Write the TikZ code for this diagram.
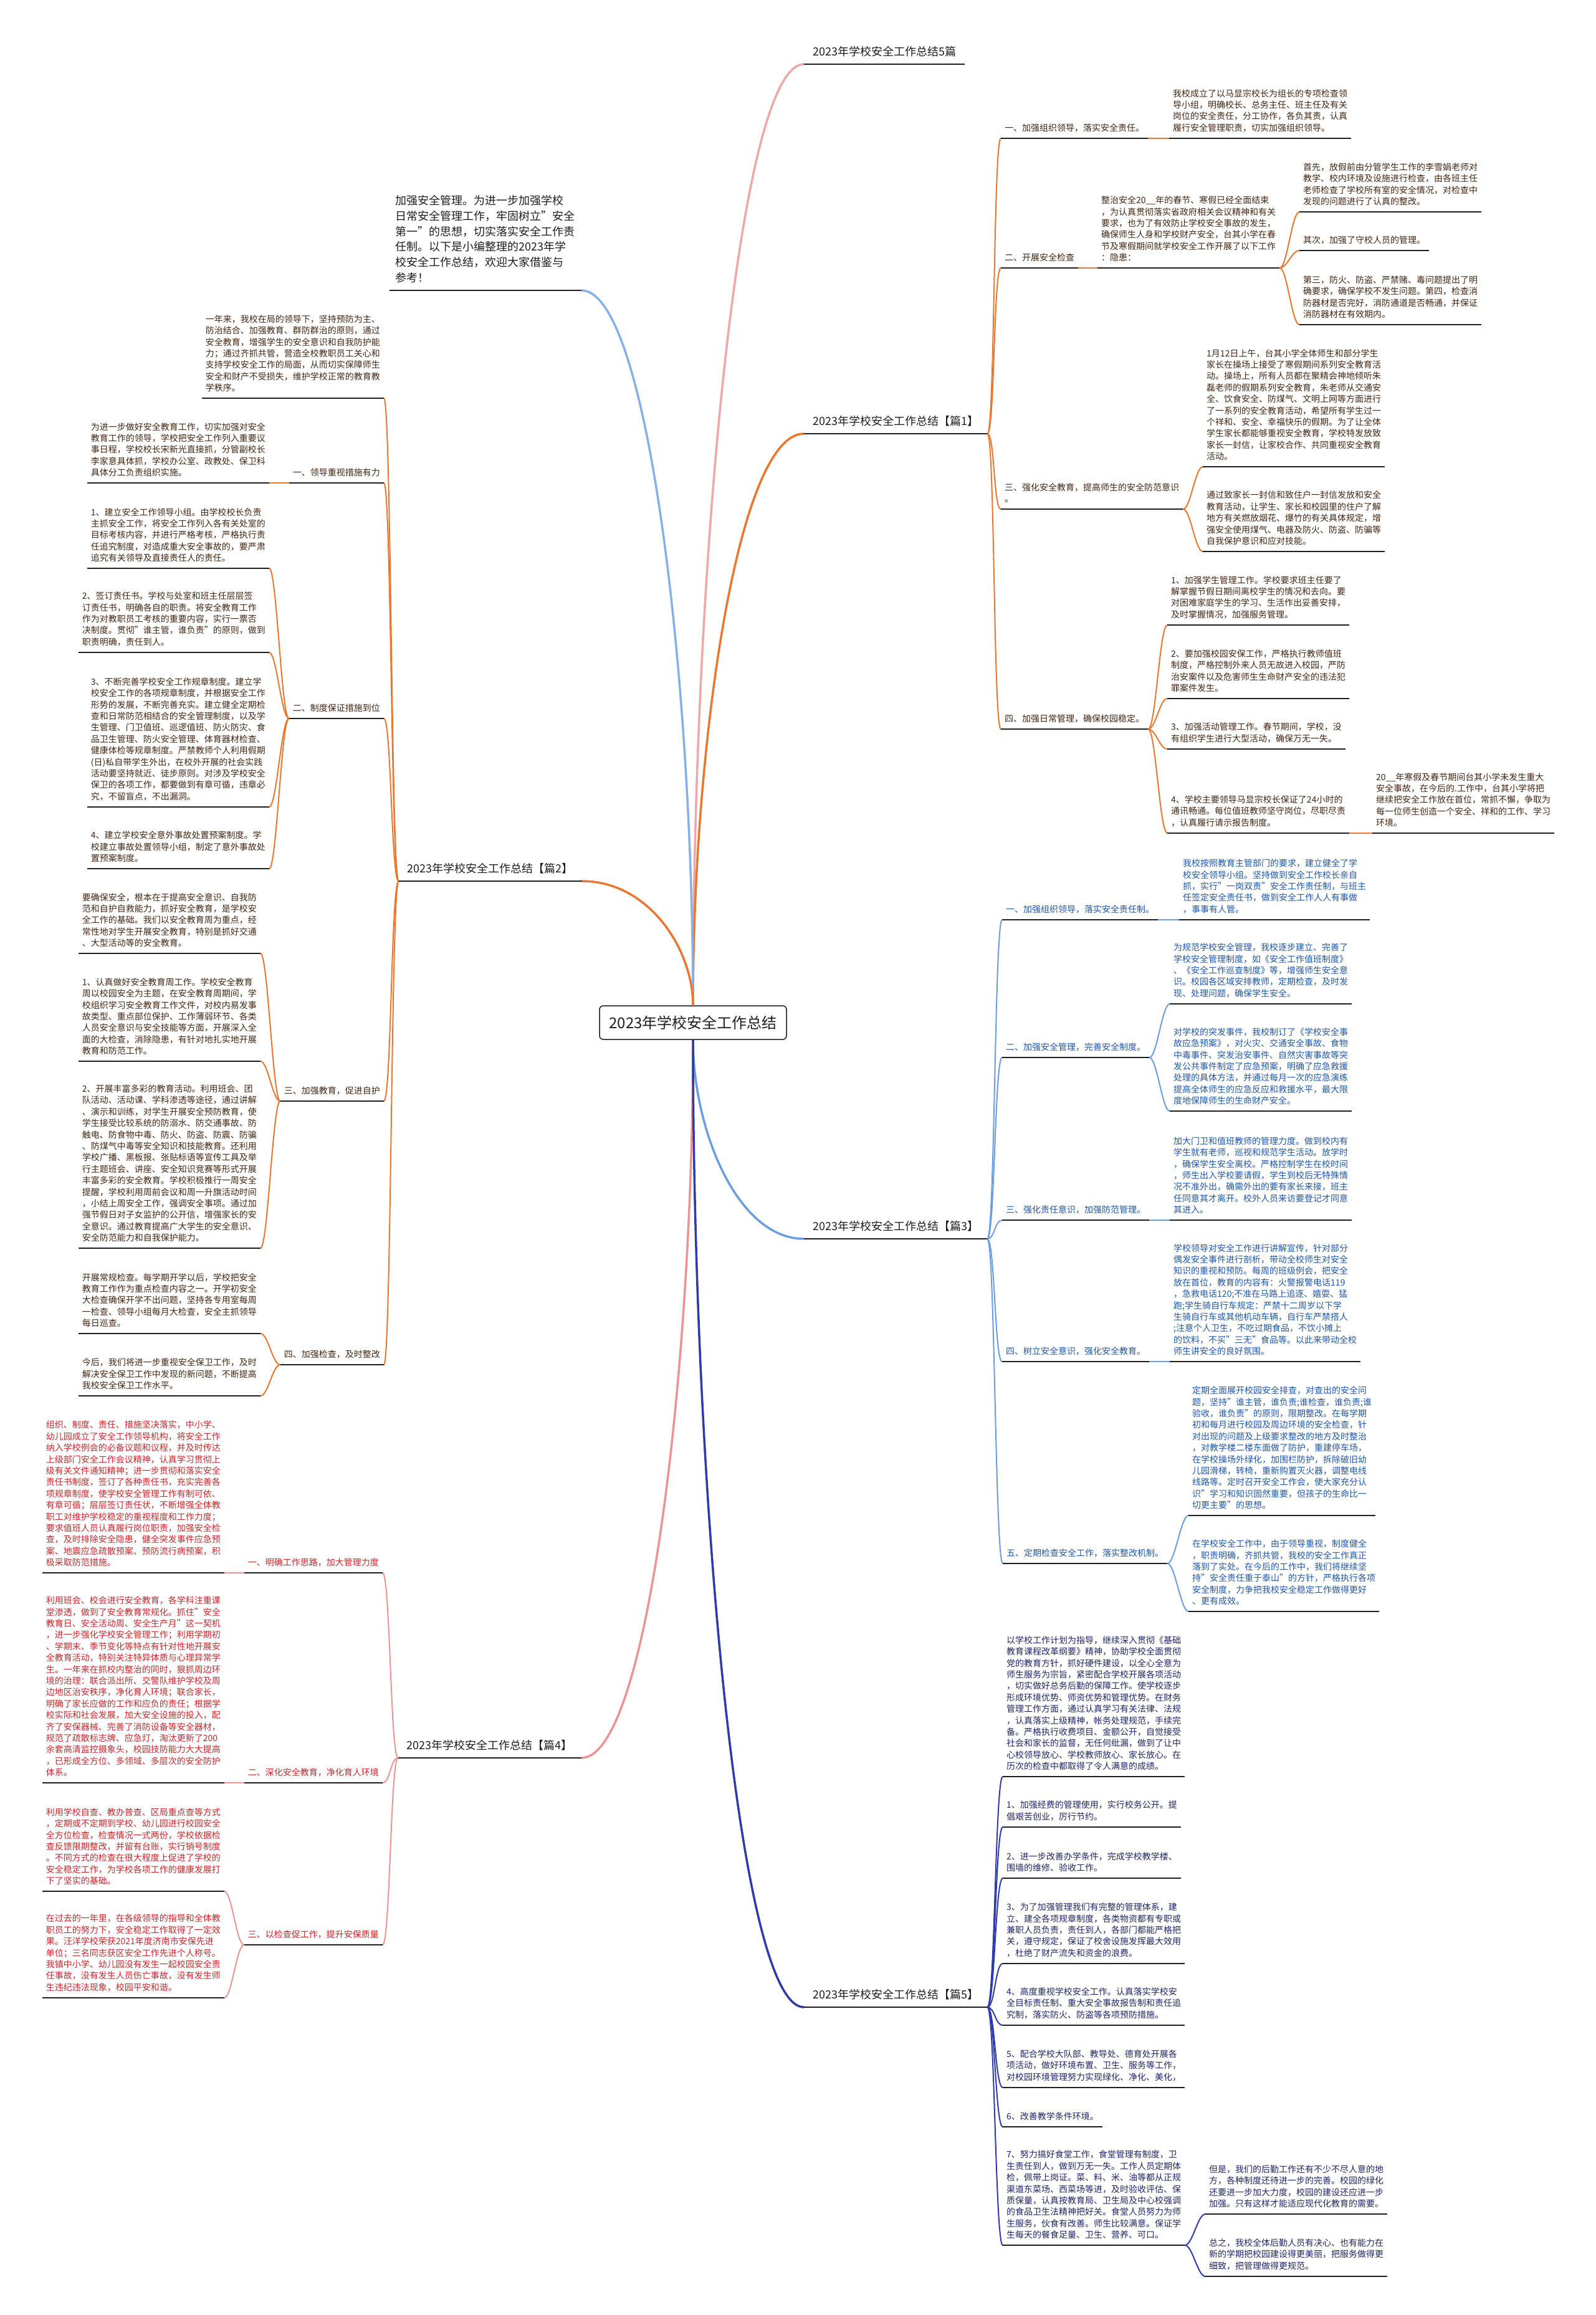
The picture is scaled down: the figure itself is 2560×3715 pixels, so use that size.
\documentclass[tikz,border=0pt]{standalone}
\usepackage{fontspec}
\setmainfont{Noto Sans CJK SC}
\usepackage{xcolor}
\definecolor{ink}{HTML}{1E1E1E}
\definecolor{pinkline}{HTML}{EFA7A7}
\definecolor{orangeline}{HTML}{E9772F}
\definecolor{skyline}{HTML}{86B0EA}
\definecolor{blueline}{HTML}{6B9DE3}
\definecolor{roseline}{HTML}{EC9494}
\definecolor{navyline}{HTML}{2F3BAA}
\definecolor{browntext}{HTML}{432512}
\definecolor{bluetext}{HTML}{1F56A8}
\definecolor{redtext}{HTML}{C8262A}
\definecolor{navytext}{HTML}{1E2568}
\tikzset{
  txt/.style={align=left, inner xsep=6pt, inner ysep=10pt, font=\fontsize{14}{18.4}\selectfont},
  rbox/.style={txt, anchor=south west},
  lbox/.style={txt, anchor=south east},
  r1/.style={rbox, text=browntext},
  l2/.style={lbox, text=browntext},
  r3/.style={rbox, text=bluetext},
  l4/.style={lbox, text=redtext},
  r5/.style={rbox, text=navytext},
  branch/.style={inner xsep=14pt, inner ysep=12pt, font=\fontsize{18}{24}\selectfont, text=ink},
  uline/.style={draw=ink, line width=2.6pt},
  bline/.style={draw=ink, line width=2pt},
  trunk/.style={line width=3.5pt},
  twig/.style={line width=2pt},
  rsp/.style={to path={.. controls +(12,0) and +(-12,0) .. (\tikztotarget)}},
  lsp/.style={to path={.. controls +(-12,0) and +(12,0) .. (\tikztotarget)}},
}
\begin{document}
\begin{tikzpicture}[x=1pt,y=-1pt]
\fill[white] (0,0) rectangle (2560,3715);
\useasboundingbox (0,0) rectangle (2560,3715);

% root and first level
\node[draw=ink, line width=1.5pt, rounded corners=6pt, minimum width=300pt, minimum height=54pt,
  font=\fontsize{24}{28}\selectfont, text=ink] (root) at (1112,1641) {2023年学校安全工作总结};
\node[branch, anchor=south west] (total) at (1290,103) {2023年学校安全工作总结5篇};
\node[branch, anchor=south west] (p1) at (1290,696) {2023年学校安全工作总结【篇1】};
\node[branch, anchor=south east] (p2) at (934,1414) {2023年学校安全工作总结【篇2】};
\node[branch, anchor=south west] (p3) at (1290,1988) {2023年学校安全工作总结【篇3】};
\node[branch, anchor=south east] (p4) at (933,2821) {2023年学校安全工作总结【篇4】};
\node[branch, anchor=south west] (p5) at (1290,3221) {2023年学校安全工作总结【篇5】};
\node[anchor=south east, align=left, inner xsep=10pt, inner ysep=12pt,
  font=\fontsize{18}{24.7}\selectfont, text=ink] (intro) at (933,466)
  {加强安全管理。为进一步加强学校\\日常安全管理工作，牢固树立"安全\\第一"的思想，切实落实安全工作责\\任制。以下是小编整理的2023年学\\校安全工作总结，欢迎大家借鉴与\\参考！};

\draw[trunk, pinkline] (root.north) .. controls +(0,-680) and +(-107,0) .. (total.south west);
\draw[trunk, orangeline] (root.north) .. controls +(0,-413) and +(-107,0) .. (p1.south west);
\draw[trunk, skyline] (root.north) .. controls +(0,-517) and +(107,0) .. (intro.south east);
\draw[trunk, orangeline] (root.north) .. controls +(0,-90) and +(107,0) .. (p2.south east);
\draw[trunk, blueline] (root.south) .. controls +(0,144) and +(-107,0) .. (p3.south west);
\draw[trunk, roseline] (root.south) .. controls +(0,519) and +(107,0) .. (p4.south east);
\draw[trunk, navyline] (root.south) .. controls +(0,699) and +(-107,0) .. (p5.south west);

% 篇1
\node[r1] (p1a) at (1606,222) {一、加强组织领导，落实安全责任。};
\node[r1] (p1a1) at (1876,222) {我校成立了以马显宗校长为组长的专项检查领\\导小组，明确校长、总务主任、班主任及有关\\岗位的安全责任，分工协作，各负其责，认真\\履行安全管理职责，切实加强组织领导。};
\node[r1] (p1b) at (1606,430) {二、开展安全检查};
\node[r1] (p1b1) at (1761,430) {整治安全20\_\_年的春节、寒假已经全面结束\\，为认真贯彻落实省政府相关会议精神和有关\\要求，也为了有效防止学校安全事故的发生，\\确保师生人身和学校财产安全，台其小学在春\\节及寒假期间就学校安全工作开展了以下工作\\：隐患：};
\node[r1] (p1ba) at (2085,340) {首先，放假前由分管学生工作的李雪娟老师对\\教学、校内环境及设施进行检查，由各班主任\\老师检查了学校所有室的安全情况，对检查中\\发现的问题进行了认真的整改。};
\node[r1] (p1bb) at (2085,402) {其次，加强了守校人员的管理。};
\node[r1] (p1bc) at (2085,521) {第三，防火、防盗、严禁赌、毒问题提出了明\\确要求，确保学校不发生问题。第四，检查消\\防器材是否完好，消防通道是否畅通，并保证\\消防器材在有效期内。};
\node[r1] (p1c) at (1606,817) {三、强化安全教育，提高师生的安全防范意识\\。};
\node[r1] (p1c1) at (1930,749) {1月12日上午，台其小学全体师生和部分学生\\家长在操场上接受了寒假期间系列安全教育活\\动。操场上，所有人员都在聚精会神地倾听朱\\磊老师的假期系列安全教育，朱老师从交通安\\全、饮食安全、防煤气、文明上网等方面进行\\了一系列的安全教育活动，希望所有学生过一\\个祥和、安全、幸福快乐的假期。为了让全体\\学生家长都能够重视安全教育，学校特发放致\\家长一封信，让家校合作、共同重视安全教育\\活动。};
\node[r1] (p1c2) at (1930,885) {通过致家长一封信和致住户一封信发放和安全\\教育活动，让学生、家长和校园里的住户了解\\地方有关燃放烟花、爆竹的有关具体规定，增\\强安全使用煤气、电器及防火、防盗、防骗等\\自我保护意识和应对技能。};
\node[r1] (p1d) at (1606,1170) {四、加强日常管理，确保校园稳定。};
\node[r1] (p1d1) at (1873,1003) {1、加强学生管理工作。学校要求班主任要了\\解掌握节假日期间离校学生的情况和去向。要\\对困难家庭学生的学习、生活作出妥善安排，\\及时掌握情况，加强服务管理。};
\node[r1] (p1d2) at (1873,1121) {2、要加强校园安保工作，严格执行教师值班\\制度，严格控制外来人员无故进入校园，严防\\治安案件以及危害师生生命财产安全的违法犯\\罪案件发生。};
\node[r1] (p1d3) at (1873,1202) {3、加强活动管理工作。春节期间，学校，没\\有组织学生进行大型活动，确保万无一失。};
\node[r1] (p1d4) at (1873,1337) {4、学校主要领导马显宗校长保证了24小时的\\通讯畅通。每位值班教师坚守岗位，尽职尽责\\，认真履行请示报告制度。};
\node[r1] (p1d5) at (2202,1337) {20\_\_年寒假及春节期间台其小学未发生重大\\安全事故，在今后的.工作中，台其小学将把\\继续把安全工作放在首位，常抓不懈，争取为\\每一位师生创造一个安全、祥和的工作、学习\\环境。};

\foreach \c in {p1a,p1b,p1c,p1d} \draw[twig, orangeline] (p1.south east) to[rsp] (\c.south west);
\draw[twig, orangeline] (p1a.south east) to[rsp] (p1a1.south west);
\draw[twig, orangeline] (p1b.south east) to[rsp] (p1b1.south west);
\foreach \c in {p1ba,p1bb,p1bc} \draw[twig, orangeline] (p1b1.south east) to[rsp] (\c.south west);
\foreach \c in {p1c1,p1c2} \draw[twig, orangeline] (p1c.south east) to[rsp] (\c.south west);
\foreach \c in {p1d1,p1d2,p1d3,p1d4} \draw[twig, orangeline] (p1d.south east) to[rsp] (\c.south west);
\draw[twig, orangeline] (p1d4.south east) to[rsp] (p1d5.south west);

% 篇2
\node[l2] (p2t) at (616,639) {一年来，我校在局的领导下，坚持预防为主、\\防治结合、加强教育、群防群治的原则，通过\\安全教育，增强学生的安全意识和自我防护能\\力；通过齐抓共管，营造全校教职员工关心和\\支持学校安全工作的局面，从而切实保障师生\\安全和财产不受损失，维护学校正常的教育教\\学秩序。};
\node[l2] (p2a) at (616,775) {一、领导重视措施有力};
\node[l2] (p2a1) at (432,775) {为进一步做好安全教育工作，切实加强对安全\\教育工作的领导，学校把安全工作列入重要议\\事日程，学校校长宋新光直接抓，分管副校长\\李家意具体抓，学校办公室、政教处、保卫科\\具体分工负责组织实施。};
\node[l2] (p2b) at (616,1153) {二、制度保证措施到位};
\node[l2] (p2b1) at (432,912) {1、建立安全工作领导小组。由学校校长负责\\主抓安全工作，将安全工作列入各有关处室的\\目标考核内容，并进行严格考核，严格执行责\\任追究制度，对造成重大安全事故的，要严肃\\追究有关领导及直接责任人的责任。};
\node[l2] (p2b2) at (432,1047) {2、签订责任书。学校与处室和班主任层层签\\订责任书，明确各自的职责。将安全教育工作\\作为对教职员工考核的重要内容，实行一票否\\决制度。贯彻"谁主管，谁负责"的原则，做到\\职责明确，责任到人。};
\node[l2] (p2b3) at (432,1295) {3、不断完善学校安全工作规章制度。建立学\\校安全工作的各项规章制度，并根据安全工作\\形势的发展，不断完善充实。建立健全定期检\\查和日常防范相结合的安全管理制度，以及学\\生管理、门卫值班、巡逻值班、防火防灾、食\\品卫生管理、防火安全管理、体育器材检查、\\健康体检等规章制度。严禁教师个人利用假期\\(日)私自带学生外出，在校外开展的社会实践\\活动要坚持就近、徒步原则。对涉及学校安全\\保卫的各项工作，都要做到有章可循，违章必\\究，不留盲点，不出漏洞。};
\node[l2] (p2b4) at (432,1394) {4、建立学校安全意外事故处置预案制度。学\\校建立事故处置领导小组，制定了意外事故处\\置预案制度。};
\node[l2] (p2c) at (616,1767) {三、加强教育，促进自护};
\node[l2] (p2c1) at (418,1530) {要确保安全，根本在于提高安全意识、自我防\\范和自护自救能力，抓好安全教育，是学校安\\全工作的基础。我们以安全教育周为重点，经\\常性地对学生开展安全教育，特别是抓好交通\\、大型活动等的安全教育。};
\node[l2] (p2c2) at (418,1703) {1、认真做好安全教育周工作。学校安全教育\\周以校园安全为主题，在安全教育周期间，学\\校组织学习安全教育工作文件，对校内易发事\\故类型、重点部位保护、工作薄弱环节、各类\\人员安全意识与安全技能等方面，开展深入全\\面的大检查，消除隐患，有针对地扎实地开展\\教育和防范工作。};
\node[l2] (p2c3) at (418,2003) {2、开展丰富多彩的教育活动。利用班会、团\\队活动、活动课、学科渗透等途径，通过讲解\\、演示和训练，对学生开展安全预防教育，使\\学生接受比较系统的防溺水、防交通事故、防\\触电、防食物中毒、防火、防盗、防震、防骗\\、防煤气中毒等安全知识和技能教育。还利用\\学校广播、黑板报、张贴标语等宣传工具及举\\行主题班会、讲座、安全知识竞赛等形式开展\\丰富多彩的安全教育。学校积极推行一周安全\\提醒，学校利用周前会议和周一升旗活动时间\\，小结上周安全工作，强调安全事项。通过加\\强节假日对子女监护的公开信，增强家长的安\\全意识。通过教育提高广大学生的安全意识、\\安全防范能力和自我保护能力。};
\node[l2] (p2d) at (616,2190) {四、加强检查，及时整改};
\node[l2] (p2d1) at (418,2140) {开展常规检查。每学期开学以后，学校把安全\\教育工作作为重点检查内容之一。开学初安全\\大检查确保开学不出问题，坚持各专用室每周\\一检查、领导小组每月大检查，安全主抓领导\\每日巡查。};
\node[l2] (p2d2) at (418,2240) {今后，我们将进一步重视安全保卫工作，及时\\解决安全保卫工作中发现的新问题，不断提高\\我校安全保卫工作水平。};

\foreach \c in {p2t,p2a,p2b,p2c,p2d} \draw[twig, orangeline] (p2.south west) to[lsp] (\c.south east);
\draw[twig, orangeline] (p2a.south west) to[lsp] (p2a1.south east);
\foreach \c in {p2b1,p2b2,p2b3,p2b4} \draw[twig, orangeline] (p2b.south west) to[lsp] (\c.south east);
\foreach \c in {p2c1,p2c2,p2c3} \draw[twig, orangeline] (p2c.south west) to[lsp] (\c.south east);
\foreach \c in {p2d1,p2d2} \draw[twig, orangeline] (p2d.south west) to[lsp] (\c.south east);

% 篇3
\node[r3] (p3a) at (1608,1476) {一、加强组织领导，落实安全责任制。};
\node[r3] (p3a1) at (1892,1476) {我校按照教育主管部门的要求，建立健全了学\\校安全领导小组。坚持做到安全工作校长亲自\\抓，实行"一岗双责"安全工作责任制，与班主\\任签定安全责任书，做到安全工作人人有事做\\，事事有人管。};
\node[r3] (p3b) at (1608,1697) {二、加强安全管理，完善安全制度。};
\node[r3] (p3b1) at (1877,1611) {为规范学校安全管理，我校逐步建立、完善了\\学校安全管理制度，如《安全工作值班制度》\\、《安全工作巡查制度》等，增强师生安全意\\识。校园各区域安排教师，定期检查，及时发\\现、处理问题，确保学生安全。};
\node[r3] (p3b2) at (1877,1783) {对学校的突发事件，我校制订了《学校安全事\\故应急预案》，对火灾、交通安全事故、食物\\中毒事件、突发治安事件、自然灾害事故等突\\发公共事件制定了应急预案，明确了应急救援\\处理的具体方法，并通过每月一次的应急演练\\提高全体师生的应急反应和救援水平，最大限\\度地保障师生的生命财产安全。};
\node[r3] (p3c) at (1608,1958) {三、强化责任意识，加强防范管理。};
\node[r3] (p3c1) at (1877,1958) {加大门卫和值班教师的管理力度。做到校内有\\学生就有老师，巡视和规范学生活动。放学时\\，确保学生安全离校。严格控制学生在校时间\\，师生出入学校要请假，学生到校后无特殊情\\况不准外出，确需外出的要有家长来接，班主\\任同意其才离开。校外人员来访要登记才同意\\其进入。};
\node[r3] (p3d) at (1608,2185) {四、树立安全意识，强化安全教育。};
\node[r3] (p3d1) at (1877,2185) {学校领导对安全工作进行讲解宣传，针对部分\\偶发安全事件进行剖析，带动全校师生对安全\\知识的重视和预防。每周的班级例会，把安全\\放在首位，教育的内容有：火警报警电话119\\，急救电话120;不准在马路上追逐、嬉耍、猛\\跑;学生骑自行车规定：严禁十二周岁以下学\\生骑自行车或其他机动车辆，自行车严禁搭人\\;注意个人卫生，不吃过期食品，不饮小摊上\\的饮料，不买"三无"食品等。以此来带动全校\\师生讲安全的良好氛围。};
\node[r3] (p3e) at (1609,2509) {五、定期检查安全工作，落实整改机制。};
\node[r3] (p3e1) at (1907,2432) {定期全面展开校园安全排查，对查出的安全问\\题，坚持"谁主管，谁负责;谁检查，谁负责;谁\\验收，谁负责"的原则，限期整改。在每学期\\初和每月进行校园及周边环境的安全检查，针\\对出现的问题及上级要求整改的地方及时整治\\，对教学楼二楼东面做了防护，重建停车场，\\在学校操场外绿化，加围栏防护，拆除破旧幼\\儿园滑梯，转椅，重新购置灭火器，调整电线\\线路等。定时召开安全工作会，使大家充分认\\识"学习和知识固然重要，但孩子的生命比一\\切更主要"的思想。};
\node[r3] (p3e2) at (1907,2586) {在学校安全工作中，由于领导重视，制度健全\\，职责明确，齐抓共管，我校的安全工作真正\\落到了实处。在今后的工作中，我们将继续坚\\持"安全责任重于泰山"的方针，严格执行各项\\安全制度，力争把我校安全稳定工作做得更好\\、更有成效。};

\foreach \c in {p3a,p3b,p3c,p3d,p3e} \draw[twig, blueline] (p3.south east) to[rsp] (\c.south west);
\draw[twig, blueline] (p3a.south east) to[rsp] (p3a1.south west);
\foreach \c in {p3b1,p3b2} \draw[twig, blueline] (p3b.south east) to[rsp] (\c.south west);
\draw[twig, blueline] (p3c.south east) to[rsp] (p3c1.south west);
\draw[twig, blueline] (p3d.south east) to[rsp] (p3d1.south west);
\foreach \c in {p3e1,p3e2} \draw[twig, blueline] (p3e.south east) to[rsp] (\c.south west);

% 篇4
\node[l4] (p4a) at (614,2524) {一、明确工作思路，加大管理力度};
\node[l4] (p4a1) at (360,2524) {组织、制度、责任、措施坚决落实，中小学、\\幼儿园成立了安全工作领导机构，将安全工作\\纳入学校例会的必备议题和议程，并及时传达\\上级部门安全工作会议精神，认真学习贯彻上\\级有关文件通知精神；进一步贯彻和落实安全\\责任书制度，签订了各种责任书，充实完善各\\项规章制度，使学校安全管理工作有制可依、\\有章可循；层层签订责任状，不断增强全体教\\职工对维护学校稳定的重视程度和工作力度；\\要求值班人员认真履行岗位职责，加强安全检\\查，及时排除安全隐患，健全突发事件应急预\\案、地震应急疏散预案、预防流行病预案，积\\极采取防范措施。};
\node[l4] (p4b) at (614,2861) {二、深化安全教育，净化育人环境};
\node[l4] (p4b1) at (360,2861) {利用班会、校会进行安全教育，各学科注重课\\堂渗透，做到了安全教育常规化。抓住"安全\\教育日、安全活动周、安全生产月"这一契机\\，进一步强化学校安全管理工作；利用学期初\\、学期末、季节变化等特点有针对性地开展安\\全教育活动，特别关注特异体质与心理异常学\\生。一年来在抓校内整治的同时，狠抓周边环\\境的治理：联合派出所、交警队维护学校及周\\边地区治安秩序，净化育人环境；联合家长，\\明确了家长应做的工作和应负的责任；根据学\\校实际和社会发展，加大安全设施的投入，配\\齐了安保器械、完善了消防设备等安全器材，\\规范了疏散标志牌、应急灯，淘汰更新了200\\余套高清监控摄象头，校园技防能力大大提高\\，已形成全方位、多领域、多层次的安全防护\\体系。};
\node[l4] (p4c) at (614,3121) {三、以检查促工作，提升安保质量};
\node[l4] (p4c1) at (360,3035) {利用学校自查、教办普查、区局重点查等方式\\，定期或不定期到学校、幼儿园进行校园安全\\全方位检查，检查情况一式两份，学校依据检\\查反馈限期整改，并留有台账，实行销号制度\\。不同方式的检查在很大程度上促进了学校的\\安全稳定工作，为学校各项工作的健康发展打\\下了坚实的基础。};
\node[l4] (p4c2) at (360,3206) {在过去的一年里，在各级领导的指导和全体教\\职员工的努力下，安全稳定工作取得了一定效\\果。汪洋学校荣获2021年度济南市安保先进\\单位；三名同志获区安全工作先进个人称号。\\我镇中小学、幼儿园没有发生一起校园安全责\\任事故，没有发生人员伤亡事故，没有发生师\\生违纪违法现象，校园平安和谐。};

\foreach \c in {p4a,p4b,p4c} \draw[twig, roseline] (p4.south west) to[lsp] (\c.south east);
\draw[twig, roseline] (p4a.south west) to[lsp] (p4a1.south east);
\draw[twig, roseline] (p4b.south west) to[lsp] (p4b1.south east);
\foreach \c in {p4c1,p4c2} \draw[twig, roseline] (p4c.south west) to[lsp] (\c.south east);

% 篇5
\node[r5] (p5a) at (1609,2851) {以学校工作计划为指导，继续深入贯彻《基础\\教育课程改革纲要》精神，协助学校全面贯彻\\党的教育方针，抓好硬件建设，以全心全意为\\师生服务为宗旨，紧密配合学校开展各项活动\\，切实做好总务后勤的保障工作。使学校逐步\\形成环境优势、师资优势和管理优势。在财务\\管理工作方面，通过认真学习有关法律、法规\\，认真落实上级精神，帐务处理规范，手续完\\备。严格执行收费项目、金额公开，自觉接受\\社会和家长的监督，无任何纰漏，做到了让中\\心校领导放心、学校教师放心、家长放心。在\\历次的检查中都取得了令人满意的成绩。};
\node[r5] (p5b) at (1609,2932) {1、加强经费的管理使用，实行校务公开。提\\倡艰苦创业，厉行节约。};
\node[r5] (p5c) at (1609,3014) {2、进一步改善办学条件，完成学校教学楼、\\围墙的维修、验收工作。};
\node[r5] (p5d) at (1609,3151) {3、为了加强管理我们有完整的管理体系，建\\立、建全各项规章制度，各类物资都有专职或\\兼职人员负责，责任到人，各部门都能严格把\\关，遵守规定，保证了校舍设施发挥最大效用\\，杜绝了财产流失和资金的浪费。};
\node[r5] (p5e) at (1609,3250) {4、高度重视学校安全工作。认真落实学校安\\全目标责任制、重大安全事故报告制和责任追\\究制，落实防火、防盗等各项预防措施。};
\node[r5] (p5f) at (1609,3350) {5、配合学校大队部、教导处、德育处开展各\\项活动，做好环境布置、卫生、服务等工作，\\对校园环境管理努力实现绿化、净化、美化，};
\node[r5] (p5g) at (1609,3413) {6、改善教学条件环境。};
\node[r5] (p5h) at (1609,3603) {7、努力搞好食堂工作，食堂管理有制度，卫\\生责任到人，做到万无一失。工作人员定期体\\检，佩带上岗证。菜、料、米、油等都从正规\\渠道东菜场、西菜场等进，及时验收评估、保\\质保量，认真按教育局、卫生局及中心校强调\\的食品卫生法精神把好关。食堂人员努力为师\\生服务，伙食有改善。师生比较满意。保证学\\生每天的餐食足量、卫生、营养、可口。};
\node[r5] (p5h1) at (1934,3553) {但是，我们的后勤工作还有不少不尽人意的地\\方，各种制度还待进一步的完善。校园的绿化\\还要进一步加大力度，校园的建设还应进一步\\加强。只有这样才能适应现代化教育的需要。};
\node[r5] (p5h2) at (1934,3653) {总之，我校全体后勤人员有决心、也有能力在\\新的学期把校园建设得更美丽，把服务做得更\\细致，把管理做得更规范。};

\foreach \c in {p5a,p5b,p5c,p5d,p5e,p5f,p5g,p5h} \draw[twig, navyline] (p5.south east) to[rsp] (\c.south west);
\foreach \c in {p5h1,p5h2} \draw[twig, navyline] (p5h.south east) to[rsp] (\c.south west);

% underlines
\foreach \n in {total,p1,p2,p3,p4,p5,intro} \draw[bline] (\n.south west) -- (\n.south east);
\foreach \n in {p1a,p1a1,p1b,p1b1,p1ba,p1bb,p1bc,p1c,p1c1,p1c2,p1d,p1d1,p1d2,p1d3,p1d4,p1d5,
  p2t,p2a,p2a1,p2b,p2b1,p2b2,p2b3,p2b4,p2c,p2c1,p2c2,p2c3,p2d,p2d1,p2d2,
  p3a,p3a1,p3b,p3b1,p3b2,p3c,p3c1,p3d,p3d1,p3e,p3e1,p3e2,
  p4a,p4a1,p4b,p4b1,p4c,p4c1,p4c2,
  p5a,p5b,p5c,p5d,p5e,p5f,p5g,p5h,p5h1,p5h2}
  \draw[uline] (\n.south west) -- (\n.south east);
\end{tikzpicture}
\end{document}
